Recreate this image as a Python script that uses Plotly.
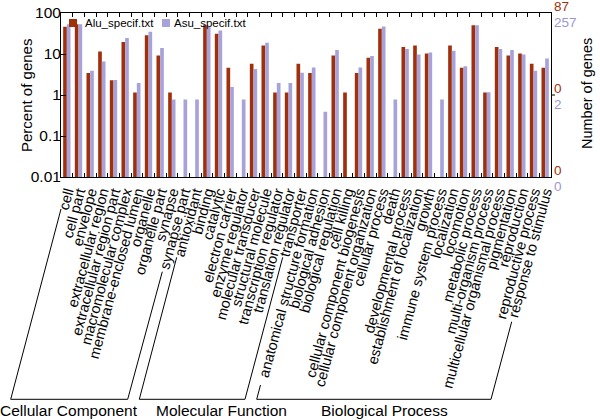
import math
import plotly.graph_objects as go

categories = [
    "cell", "cell part", "envelope", "extracellular region", "extracellular region part",
    "macromolecular complex", "membrane-enclosed lumen", "organelle", "organelle part",
    "synapse", "synapse part",
    "antioxidant", "binding", "catalytic", "electron carrier", "enzyme regulator",
    "molecular transducer", "structural molecule", "transcription regulator",
    "translation regulator", "transporter",
    "anatomical structure formation", "biological adhesion", "biological regulation",
    "cell killing", "cellular component biogenesis", "cellular component organization",
    "cellular process", "death", "developmental process", "establishment of localization",
    "growth", "immune system process", "localization", "locomotion", "metabolic process",
    "multi-organism process", "multicellular organismal process", "pigmentation",
    "reproduction", "reproductive process", "response to stimulus",
]

alu_percent = [
    46.0, 52.9, 3.45, 11.5, 2.3, 19.5, 1.15, 28.7, 9.2, 1.15, None,
    None, 50.6, 31.0, 4.6, None, 5.75, 16.1, 1.15, 1.15, 5.75,
    3.45, None, 9.2, 1.15, 3.45, 8.05, 41.4, None, 14.9, 16.1,
    10.3, None, 16.1, 4.6, 50.6, 1.15, 14.9, 9.2, 10.3, 5.75, 4.6,
]

asu_percent = [
    53.3, 52.9, 3.9, 6.6, 2.33, 24.5, 1.95, 35.0, 14.0, 0.78, 0.78,
    0.78, 46.7, 37.4, 1.56, 0.78, 4.28, 18.7, 1.95, 1.95, 3.5,
    4.67, 0.39, 12.45, None, 4.67, 8.95, 46.7, 0.78, 13.2, 9.73,
    10.9, 0.78, 12.06, 5.06, 50.6, 1.17, 13.2, 12.45, 9.73, 3.89, 7.78,
]

series_names = ["Alu_specif.txt", "Asu_specif.txt"]
series_totals = [87, 257]
series_colors = ["#A0300C", "#A7A2DA"]
label_colors = ["#A0300C", "#9C97D4"]

groups = ["Cellular Component", "Molecular Function", "Biological Process"]

y_tickvals = [0.01, 0.1, 1, 10, 100]
y_ticktext = ["0.01", "0.1", "1", "10", "100"]

FONT = "Liberation Sans, Arial, sans-serif"

# plot-area geometry (pixels) used for decorations
L, T, W, H = 61, 13, 490, 164


def px(x):
    return (x - L) / W


def py(y):
    return (T + H - y) / H


fig = go.Figure()
for name, vals, col in zip(series_names, [alu_percent, asu_percent], series_colors):
    fig.add_trace(go.Bar(x=categories, y=vals, name=name, marker_color=col,
                         marker_line_width=0, showlegend=False))

fig.update_layout(
    width=600, height=420,
    margin=dict(l=L, r=600 - L - W, t=T, b=420 - T - H, autoexpand=False),
    plot_bgcolor="white", paper_bgcolor="white",
    barmode="group", bargap=0.37, bargroupgap=0,
    font=dict(family=FONT, color="black"),
    showlegend=False,
)

fig.update_xaxes(
    type="category", tickangle=-75, tickfont=dict(size=14.5),
    tickmode="array", tickvals=categories, ticktext=categories,
    ticks="inside", tickson="boundaries", ticklen=4, tickcolor="black",
    showline=True, linecolor="black", linewidth=1, mirror="ticks",
    showgrid=False, range=[-0.5, len(categories) - 0.5], automargin=False,
)
fig.update_yaxes(
    type="log", range=[-2, 2], tickvals=y_tickvals, ticktext=y_ticktext,
    tickfont=dict(size=15.5), ticks="inside", ticklen=5, tickcolor="black",
    showline=True, linecolor="black", linewidth=1, mirror=True,
    showgrid=False, zeroline=False, automargin=False, ticklabelstandoff=-4,
)

shapes = []
# right axis single tick at 1%
shapes.append(dict(type="line", xref="paper", yref="paper", x0=1, x1=px(L + W + 4),
                   y0=0.5, y1=0.5, line=dict(color="black", width=1)))

# group brackets (drawn parallel to the slanted labels)
brackets = [
    [(61, 209), (10.7, 399.3), (127.7, 399.3), (162.3, 271.7)],
    [(176.7, 257.3), (139.3, 399.3), (245, 399.3), (282.7, 257.3)],
    [(260.5, 385), (256.7, 399.3), (491, 399.3), (511.7, 321.7)],
]
for pts in brackets:
    path = "M " + " L ".join(f"{px(x):.5f},{py(y):.5f}" for x, y in pts)
    shapes.append(dict(type="path", xref="paper", yref="paper", path=path,
                       line=dict(color="black", width=1)))

# legend swatches
legend_sq_x = [69, 162]
for x0, col in zip(legend_sq_x, series_colors):
    shapes.append(dict(type="rect", xref="paper", yref="paper",
                       x0=px(x0), x1=px(x0 + 8), y0=py(27), y1=py(19),
                       fillcolor=col, line=dict(width=0)))
fig.update_layout(shapes=shapes)

annotations = []
legend_text_x = [84, 173]
for name, x0 in zip(series_names, legend_text_x):
    annotations.append(dict(text=name, xref="paper", yref="paper", x=px(x0), y=py(23),
                            xanchor="left", yanchor="middle", showarrow=False,
                            borderpad=0, font=dict(size=11.5)))

group_centers = [69, 221, 384]
for g, cx in zip(groups, group_centers):
    annotations.append(dict(text=g, xref="paper", yref="paper", x=px(cx), y=py(410),
                            xanchor="center", yanchor="middle", showarrow=False,
                            font=dict(size=15.5)))

# right axis: number of genes at 100%, 1%, 0.01%
for yp, pct in [(1.0, 100), (0.5, 1), (0.0, 0.01)]:
    for i, (tot, col) in enumerate(zip(series_totals, label_colors)):
        n = int(math.floor(tot * pct / 100 + 1e-9))
        annotations.append(dict(text=str(n), xref="paper", yref="paper", x=1, y=yp,
                                xanchor="left", yanchor="middle", xshift=2,
                                yshift=7 if i == 0 else -9, showarrow=False,
                                borderpad=0,
                                font=dict(size=13.5, color=col)))
annotations.append(dict(text="Percent of genes", xref="paper", yref="paper",
                        x=px(26), y=py(96), textangle=-90, xanchor="center",
                        yanchor="middle", showarrow=False, font=dict(size=15)))
annotations.append(dict(text="Number of genes", xref="paper", yref="paper",
                        x=px(587), y=py(94), textangle=-90, xanchor="center",
                        yanchor="middle", showarrow=False, font=dict(size=14.5)))
fig.update_layout(annotations=annotations)

fig.write_html("out.html", config={"displayModeBar": False},
               post_script="document.body.style.margin='0';document.body.style.overflow='hidden';")
